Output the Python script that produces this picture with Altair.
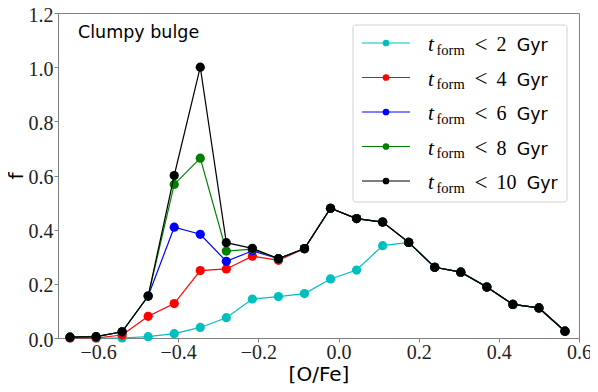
import altair as alt
import pandas as pd

# [O/Fe] bin centres
OFE = [-0.67, -0.605, -0.54, -0.475, -0.41, -0.345, -0.28, -0.215, -0.15, -0.085,
       -0.02, 0.045, 0.11, 0.175, 0.24, 0.305, 0.37, 0.435, 0.5, 0.565]

F_LT2 = [0.0, 0.0, 0.0, 0.005, 0.016, 0.039, 0.075, 0.144, 0.153, 0.164,
         0.218, 0.251, 0.341, 0.353, 0.261, 0.243, 0.188, 0.124, 0.111, 0.025]
F_LT4 = [0.0, 0.0, 0.011, 0.080, 0.127, 0.249, 0.255, 0.302, 0.287, 0.330,
         0.479, 0.441, 0.428, 0.353, 0.261, 0.243, 0.188, 0.124, 0.111, 0.025]
F_LT6 = [0.003, 0.005, 0.023, 0.155, 0.409, 0.383, 0.283, 0.322, 0.293, 0.330,
         0.479, 0.441, 0.428, 0.353, 0.261, 0.243, 0.188, 0.124, 0.111, 0.025]
F_LT8 = [0.003, 0.005, 0.023, 0.155, 0.567, 0.664, 0.321, 0.328, 0.293, 0.330,
         0.479, 0.441, 0.428, 0.353, 0.261, 0.243, 0.188, 0.124, 0.111, 0.025]
F_LT10 = [0.003, 0.005, 0.023, 0.155, 0.600, 1.000, 0.352, 0.331, 0.293, 0.330,
          0.479, 0.441, 0.428, 0.353, 0.261, 0.243, 0.188, 0.124, 0.111, 0.025]

T_FORM = ["2", "4", "6", "8", "10"]
COLORS = ["#00bfbf", "#ff0000", "#0000ff", "#008000", "#000000"]
SERIES = [F_LT2, F_LT4, F_LT6, F_LT8, F_LT10]

X_TICKS = [-0.6, -0.4, -0.2, 0.0, 0.2, 0.4, 0.6]
Y_TICKS = [0.0, 0.2, 0.4, 0.6, 0.8, 1.0, 1.2]

W, H = 521, 325
SERIF = "Liberation Serif"
SANS = "DejaVu Sans"

xscale = alt.Scale(domain=[-0.7, 0.6], nice=False, zero=False)
yscale = alt.Scale(domain=[0, 1.2], nice=False)
xaxis = alt.Axis(values=X_TICKS, format=".1f", grid=False, title="[O/Fe]",
                 labelExpr="replace(datum.label, '-', '\u2212')",
                 titleFont=SANS, titleFontSize=20, titleFontWeight="normal",
                 titleColor="#000", titleBaseline="alphabetic", titleY=42,
                 labelFont=SERIF, labelFontSize=20, labelColor="#222",
                 labelPadding=0, tickSize=4, tickColor="#808080",
                 domainColor="#808080", labelFlush=False, labelOverlap=False)
yaxis = alt.Axis(values=Y_TICKS, format=".1f", grid=False, title="f",
                 titleFont=SANS, titleFontSize=20, titleFontWeight="normal",
                 titleColor="#000", titleBaseline="alphabetic", titleX=-36,
                 labelFont=SERIF, labelFontSize=20, labelColor="#222",
                 labelPadding=1, labelOffset=2, tickSize=4, tickColor="#808080",
                 domainColor="#808080", labelFlush=False, labelOverlap=False)

layers = []
for num, color, vals in zip(T_FORM, COLORS, SERIES):
    d = pd.DataFrame({"ofe": OFE, "f": vals})
    base = alt.Chart(d).encode(
        x=alt.X("ofe:Q", scale=xscale, axis=xaxis),
        y=alt.Y("f:Q", scale=yscale, axis=yaxis),
    )
    layers.append(base.mark_line(color=color, strokeWidth=1.2))
    layers.append(base.mark_circle(color=color, size=85, opacity=1))

# panel label
title_txt = alt.Chart(pd.DataFrame({"t": ["Clumpy bulge"]})).mark_text(
    font=SANS, fontSize=17.5, align="left", baseline="alphabetic", color="#000"
).encode(text="t:N", x=alt.value(20), y=alt.value(24.5))
layers.append(title_txt)

# legend (built from the series table)
ROW0, ROW_STEP = 30, 34.5
leg = pd.DataFrame({
    "num": T_FORM,
    "color": COLORS,
    "cy": [ROW0 + i * ROW_STEP for i in range(len(T_FORM))],
    "gx": [458.7 + 10 * (len(n) - 1) for n in T_FORM],
})
box = alt.Chart(pd.DataFrame({"a": [0]})).mark_rect(
    fill="white", fillOpacity=0.8, stroke="#d0d0d0", strokeWidth=1, cornerRadius=3
).encode(x=alt.value(295), x2=alt.value(509), y=alt.value(12), y2=alt.value(189))
lb = alt.Chart(leg)
ly = alt.Y("cy:Q", scale=None, axis=None)
leg_lines = lb.mark_rule(strokeWidth=1.2).encode(
    x=alt.value(304), x2=alt.value(352), y=ly, color=alt.Color("color:N", scale=None))
leg_pts = lb.mark_circle(size=45, opacity=1).encode(
    x=alt.value(328), y=ly, color=alt.Color("color:N", scale=None))
t_txt = lb.mark_text(font=SERIF, fontStyle="italic", fontSize=21, align="left",
                     baseline="alphabetic", dy=8, color="#000").encode(
    x=alt.value(370), y=ly, text=alt.value("t"))
form_txt = lb.mark_text(font=SERIF, fontSize=14.5, align="left",
                        baseline="alphabetic", dy=11.5, color="#000").encode(
    x=alt.value(378.5), y=ly, text=alt.value("form"))
lt_txt = lb.mark_text(font=SERIF, fontSize=23, align="left",
                      baseline="alphabetic", dy=8.5, color="#000").encode(
    x=alt.value(416.5), y=ly, text=alt.value("<"))
num_txt = lb.mark_text(font=SERIF, fontSize=20, align="left",
                       baseline="alphabetic", dy=8, color="#000").encode(
    x=alt.value(438.5), y=ly, text="num:N")
gyr_txt = lb.mark_text(font=SANS, fontSize=17.5, align="left",
                       baseline="alphabetic", dy=8, color="#000").encode(
    x=alt.X("gx:Q", scale=None, axis=None), y=ly, text=alt.value("Gyr"))

layers += [box, leg_lines, leg_pts, t_txt, form_txt, lt_txt, num_txt, gyr_txt]

chart = alt.layer(*layers).properties(
    width=W, height=H,
    autosize=alt.AutoSizeParams(type="none"),
    padding={"left": 50, "top": 5, "right": 11, "bottom": 46},
    background="white",
).configure_view(stroke="#808080", strokeWidth=1)

chart.save("out.html", embed_options={"renderer": "svg", "actions": False})
